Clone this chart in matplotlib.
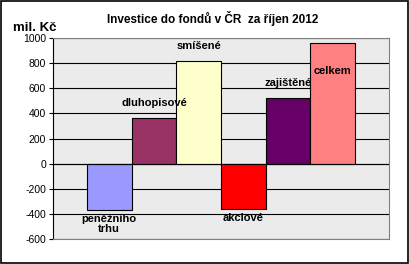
import numpy as np
import matplotlib.pyplot as plt

plt.rcParams['font.family'] = ['Liberation Sans', 'DejaVu Sans']

# data
categories = ['peněžního\ntrhu', 'dluhopisové', 'smíšené', 'akciové', 'zajištěné', 'celkem']
values = [-370, 362, 816, -358, 521, 959]
colors = ['#9999FF', '#993366', '#FFFFCC', '#FF0000', '#660066', '#FF8080']
yticks = [-600, -400, -200, 0, 200, 400, 600, 800, 1000]

fig = plt.figure(figsize=(4.09, 2.64), dpi=100)
ax = fig.add_axes([0.1296, 0.0947, 0.8215, 0.7613])
ax.set_facecolor('#ebebeb')

x = np.arange(len(values))
ax.bar(x, values, width=1.0, color=colors, edgecolor='black', linewidth=0.8, zorder=3)
ax.axhline(0, color='black', linewidth=0.8, zorder=4)

ax.set_ylim(-600, 1000)
ax.set_xlim(-0.5 - 0.76, len(values) - 0.5 + 0.76)
ax.set_yticks(yticks)
ax.set_yticklabels([str(t) for t in yticks], fontsize=7.5)
ax.set_xticks([])
ax.grid(axis='y', color='black', linewidth=0.8, zorder=1)
ax.tick_params(axis='y', length=3, width=0.8, pad=2)
for s in ['top', 'right', 'bottom']:
    ax.spines[s].set_color('#808080')
ax.spines['left'].set_color('black')

# data labels
for i, (c, v) in enumerate(zip(categories, values)):
    if v >= 0:
        if v > 900:
            ax.annotate(c, (i, v), xytext=(0, -20), textcoords='offset points',
                        ha='center', va='center', fontsize=8, fontweight='bold', zorder=5)
        else:
            ax.annotate(c, (i, v), xytext=(0, 11), textcoords='offset points',
                        ha='center', va='center', fontsize=8, fontweight='bold', zorder=5)
    else:
        ax.annotate(c, (i, v), xytext=(0, -3), textcoords='offset points',
                    ha='center', va='top', fontsize=8, fontweight='bold', zorder=5,
                    linespacing=1.0)

fig.text(0.52, 0.93, 'Investice do fondů v ČR  za říjen 2012', ha='center', va='center',
         fontsize=8.5, fontweight='bold')
fig.text(0.085, 0.895, 'mil. Kč', ha='center', va='center', fontsize=9.5, fontweight='bold')

fig.patches.append(plt.Rectangle((0.003, 0.005), 0.994, 0.99, transform=fig.transFigure,
                                 fill=False, edgecolor='black', linewidth=1.2))

fig.savefig('out.png', dpi=100)
